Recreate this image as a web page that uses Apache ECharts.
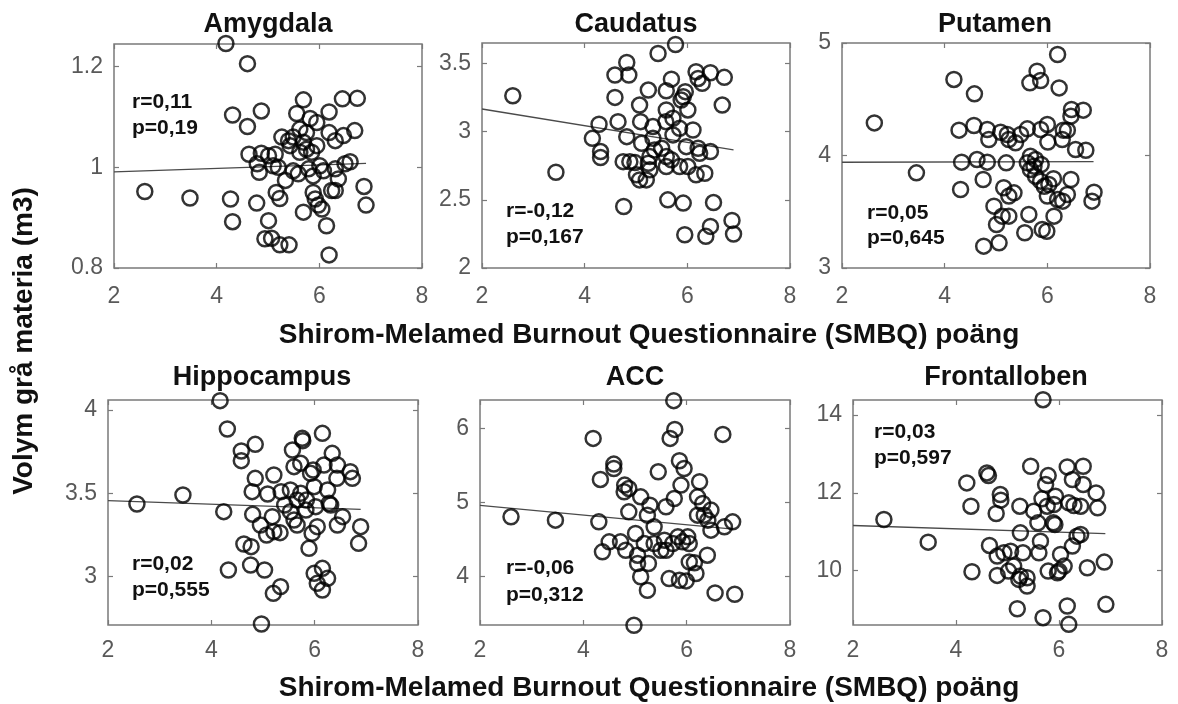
<!DOCTYPE html>
<html><head><meta charset="utf-8">
<script src="https://cdn.jsdelivr.net/npm/echarts@6/dist/echarts.min.js"></script>
<style>html,body{margin:0;padding:0;background:#fff}#c{width:1178px;height:704px}</style>
</head><body><div id="c"></div><script>
// ---------- data ----------
const panelTitles = ['Amygdala', 'Caudatus', 'Putamen', 'Hippocampus', 'ACC', 'Frontalloben'];
const xTitle = 'Shirom-Melamed Burnout Questionnaire (SMBQ) poäng';
const yTitle = 'Volym grå materia (m3)';
const xTicks = [2, 4, 6, 8];
const xMin = 2, xMax = 8;
const amygdalaTicks = [0.8, 1, 1.2];
const caudatusTicks = [2, 2.5, 3, 3.5];
const putamenTicks = [3, 4, 5];
const hippocampusTicks = [3, 3.5, 4];
const accTicks = [4, 5, 6];
const frontalTicks = [10, 12, 14];
const yMins = [0.8, 2, 3, 2.71, 3.35, 8.6];
const yMaxs = [1.245, 3.65, 5, 4.06, 6.38, 14.39];
const statR = ['r=0,11', 'r=-0,12', 'r=0,05', 'r=0,02', 'r=-0,06', 'r=0,03'];
const statP = ['p=0,19', 'p=0,167', 'p=0,645', 'p=0,555', 'p=0,312', 'p=0,597'];

const amygdalaPoints = [[4.18,1.246],[4.60,1.206],[2.60,0.952],[3.48,0.939],[4.31,1.104],[4.60,1.081],[4.87,1.112],[4.27,0.937],[4.31,0.892],[4.78,0.929],[4.63,1.026],[4.87,1.028],[4.79,1.007],[4.83,0.990],[5.01,0.894],[4.94,0.858],[5.07,0.859],[5.23,0.846],[5.41,0.846],[5.16,0.950],[5.23,0.938],[5.14,1.026],[5.20,1.000],[5.27,1.060],[5.40,1.053],[5.49,1.060],[5.34,0.974],[5.56,1.107],[5.69,1.134],[5.62,1.076],[5.59,0.987],[5.69,0.911],[5.62,1.030],[5.75,1.036],[5.85,1.030],[5.95,1.043],[5.82,1.097],[5.95,1.089],[5.79,0.997],[5.88,0.950],[5.92,0.937],[5.98,0.925],[6.05,0.917],[6.01,1.003],[6.08,0.993],[6.19,1.110],[6.19,1.069],[6.31,1.053],[6.14,0.884],[6.19,0.826],[6.24,0.954],[6.31,0.954],[6.37,0.977],[6.31,0.997],[6.45,1.136],[6.47,1.063],[6.50,1.007],[6.60,1.011],[6.74,1.137],[6.69,1.073],[6.87,0.962],[6.91,0.925],[5.01,1.023],[5.49,0.993],[5.43,1.043],[5.75,1.069],[5.88,0.983],[5.69,1.050],[5.10,1.003]];
const caudatusPoints = [[2.60,3.263],[3.44,2.702],[4.28,3.054],[4.15,2.951],[4.31,2.854],[4.31,2.810],[4.59,3.415],[4.82,3.507],[4.86,3.415],[4.59,3.251],[4.65,3.073],[4.82,2.963],[4.76,2.451],[4.75,2.780],[4.88,2.780],[4.98,2.773],[5.01,2.683],[5.07,2.646],[5.20,2.646],[5.24,2.768],[5.27,2.720],[5.07,3.195],[5.24,3.305],[5.09,3.073],[5.11,2.915],[5.33,3.037],[5.33,2.951],[5.43,3.573],[5.77,3.639],[5.59,3.300],[5.69,3.385],[5.58,3.073],[5.72,3.098],[5.50,2.878],[5.59,2.817],[5.59,2.744],[5.69,2.793],[5.62,2.500],[5.92,2.476],[5.72,2.976],[5.85,3.024],[5.92,3.256],[5.96,3.293],[5.88,3.232],[6.01,3.159],[5.98,2.890],[5.85,2.744],[6.01,2.744],[5.95,2.244],[6.11,3.012],[6.17,3.439],[6.21,3.390],[6.29,3.354],[6.21,2.878],[6.24,2.841],[6.17,2.683],[6.34,2.695],[6.45,2.854],[6.45,3.432],[6.72,3.398],[6.68,3.195],[6.51,2.480],[6.45,2.305],[6.36,2.232],[6.87,2.349],[6.90,2.249],[5.36,2.866],[5.27,2.817],[5.59,3.159]];
const putamenPoints = [[2.63,4.290],[3.45,3.846],[4.18,4.676],[4.58,4.548],[4.28,4.225],[4.57,4.267],[4.33,3.941],[4.63,3.964],[4.83,3.941],[4.75,3.787],[4.31,3.698],[4.83,4.231],[4.86,4.142],[5.09,4.207],[5.20,3.935],[5.15,3.713],[4.96,3.550],[5.01,3.387],[4.76,3.194],[5.06,3.224],[5.12,3.461],[5.25,3.461],[5.25,3.639],[5.35,3.668],[5.25,4.142],[5.38,4.113],[5.48,4.187],[5.61,4.237],[5.66,4.646],[5.80,4.750],[5.87,4.667],[6.20,4.898],[6.23,4.601],[5.56,3.313],[5.64,3.476],[5.61,3.935],[5.67,3.994],[5.74,3.905],[5.77,3.816],[5.87,3.772],[5.94,3.727],[5.88,3.920],[6.00,3.639],[5.90,3.342],[5.99,3.327],[6.13,3.461],[6.00,4.276],[6.01,4.119],[6.12,3.793],[6.03,3.742],[6.20,3.609],[6.30,3.594],[6.39,3.653],[6.46,3.787],[6.31,4.225],[6.39,4.225],[6.29,4.142],[6.46,4.350],[6.47,4.409],[6.70,4.403],[6.55,4.053],[6.75,4.047],[6.91,3.674],[6.87,3.594],[5.67,3.876],[5.77,3.964],[5.22,4.187],[5.87,4.231]];
const hippocampusPoints = [[2.56,3.436],[3.45,3.490],[4.17,4.056],[4.31,3.886],[4.24,3.390],[4.33,3.040],[4.58,3.754],[4.58,3.696],[4.85,3.794],[4.85,3.590],[4.79,3.510],[4.80,3.374],[4.63,3.196],[4.77,3.180],[4.76,3.070],[5.03,3.040],[5.20,2.900],[5.34,2.940],[4.97,2.716],[5.09,3.496],[5.21,3.610],[4.95,3.310],[5.07,3.250],[5.18,3.360],[5.21,3.270],[5.33,3.264],[5.35,3.510],[5.53,3.520],[5.57,3.760],[5.60,3.660],[5.73,3.680],[5.76,3.830],[5.77,3.816],[5.42,3.430],[5.53,3.390],[5.66,3.310],[5.66,3.460],[5.73,3.500],[5.84,3.460],[5.83,3.400],[5.92,3.620],[5.99,3.540],[5.89,3.170],[5.95,3.260],[6.05,3.300],[5.99,3.020],[6.05,2.960],[6.15,3.050],[6.25,2.990],[6.15,2.920],[6.15,3.860],[6.18,3.670],[6.25,3.520],[6.28,3.440],[6.31,3.430],[6.34,3.740],[6.44,3.670],[6.43,3.590],[6.54,3.360],[6.44,3.310],[6.69,3.630],[6.73,3.590],[6.89,3.300],[6.85,3.200],[5.60,3.340],[6.02,3.420],[5.97,3.640]];
const accPoints = [[2.60,4.807],[3.46,4.762],[4.30,4.739],[4.19,5.863],[4.33,5.310],[4.59,5.517],[4.59,5.458],[4.80,5.234],[4.79,5.144],[4.88,5.189],[4.88,4.874],[4.50,4.470],[4.37,4.335],[4.72,4.470],[4.82,4.357],[5.01,4.582],[5.05,4.178],[5.11,4.000],[5.24,3.818],[4.98,3.346],[5.11,5.076],[5.29,4.964],[5.24,4.829],[5.18,4.447],[5.26,4.178],[5.37,4.672],[5.37,4.447],[5.45,5.413],[5.60,4.942],[5.57,4.492],[5.60,4.357],[5.66,3.975],[5.75,6.371],[5.77,5.984],[5.68,5.863],[5.76,5.054],[5.86,5.562],[5.95,5.458],[5.89,5.234],[5.73,4.447],[5.83,4.537],[5.86,3.953],[5.99,3.944],[6.02,4.537],[6.05,4.447],[6.05,4.200],[6.15,4.187],[6.18,4.043],[6.21,5.076],[6.25,5.279],[6.21,4.829],[6.31,4.987],[6.34,4.829],[6.41,4.762],[6.47,4.897],[6.40,4.290],[6.47,4.627],[6.70,5.917],[6.55,3.782],[6.73,4.672],[6.89,4.739],[6.93,3.764],[5.50,4.357],[5.05,4.290],[5.92,4.470]];
const frontalPoints = [[2.60,11.315],[3.46,10.732],[4.29,11.657],[4.31,9.970],[4.60,12.514],[4.63,12.445],[4.21,12.257],[4.86,11.957],[4.87,11.812],[4.78,11.469],[4.65,10.647],[4.80,10.373],[4.93,10.458],[5.06,10.501],[4.80,9.876],[5.02,9.987],[5.12,10.116],[5.22,9.773],[5.38,9.816],[5.38,9.602],[5.19,9.019],[5.24,11.657],[5.25,10.972],[5.30,10.458],[5.45,12.685],[5.51,11.529],[5.59,11.229],[5.61,10.458],[5.64,10.758],[5.69,14.398],[5.79,12.445],[5.74,12.214],[5.67,11.846],[5.77,11.657],[5.90,11.700],[5.93,11.914],[5.89,11.229],[5.79,9.987],[5.69,8.788],[5.97,9.944],[6.03,10.415],[6.10,10.116],[6.16,12.668],[6.26,12.343],[6.19,11.743],[6.29,11.675],[6.42,11.657],[6.47,12.685],[6.47,12.214],[6.26,10.630],[6.35,10.886],[6.42,10.929],[6.55,10.073],[6.72,12.000],[6.75,11.615],[6.88,10.218],[6.91,9.131],[6.16,9.088],[6.19,8.617],[6.00,9.987],[5.92,11.186],[5.25,9.859]];

const amygdalaFit = [[2, 0.991], [6.91, 1.008]];
const caudatusFit = [[2, 3.166], [6.90, 2.866]];
const putamenFit = [[2, 3.940], [6.90, 3.945]];
const hippocampusFit = [[2, 3.456], [6.89, 3.404]];
const accFit = [[2, 4.960], [6.90, 4.640]];
const frontalFit = [[2, 11.16], [6.90, 10.95]];

// ---------- layout / style ----------
const pointsList = [amygdalaPoints, caudatusPoints, putamenPoints, hippocampusPoints, accPoints, frontalPoints];
const fitList = [amygdalaFit, caudatusFit, putamenFit, hippocampusFit, accFit, frontalFit];
const yTickList = [amygdalaTicks, caudatusTicks, putamenTicks, hippocampusTicks, accTicks, frontalTicks];

const FONT = "'Liberation Sans', Arial, Helvetica, sans-serif";
const BOX = '#7a7a7a';
const LABEL = '#595959';
const grids = [
  {left:114, top:44, width:308, height:224},
  {left:482, top:43, width:308, height:225},
  {left:842, top:43, width:308, height:225},
  {left:108, top:400, width:310, height:225},
  {left:480, top:400, width:310, height:225},
  {left:853, top:400, width:309, height:225}
];
const titlePos = [[268,25],[636,25],[995,25],[262,378],[635,378],[1006,378]];
const statPos = [[132,102,128],[506,211,237],[867,213,238],[132,564,590],[506,568,595],[874,432,458]];
const xLabelMargin = [17,17,17,14,14,14];

const xAxes = [], yAxes = [], series = [], titles = [], graphics = [];
grids.forEach((g, i) => {
  const tick = {inside:true, length:5, lineStyle:{color:BOX, width:1.2}};
  xAxes.push({gridIndex:i, type:'value', min:xMin, max:xMax, position:'bottom',
    axisLine:{show:false}, splitLine:{show:false},
    axisTick:Object.assign({customValues:xTicks}, tick),
    axisLabel:{customValues:xTicks, fontSize:23, color:LABEL, fontFamily:FONT, margin:xLabelMargin[i]}});
  xAxes.push({gridIndex:i, type:'value', min:xMin, max:xMax, position:'top',
    axisLine:{show:false}, splitLine:{show:false},
    axisTick:Object.assign({customValues:xTicks}, tick), axisLabel:{show:false}});
  yAxes.push({gridIndex:i, type:'value', min:yMins[i], max:yMaxs[i], position:'left',
    axisLine:{show:false}, splitLine:{show:false},
    axisTick:Object.assign({customValues:yTickList[i]}, tick),
    axisLabel:{customValues:yTickList[i], fontSize:23, color:LABEL, fontFamily:FONT, margin:11}});
  yAxes.push({gridIndex:i, type:'value', min:yMins[i], max:yMaxs[i], position:'right',
    axisLine:{show:false}, splitLine:{show:false},
    axisTick:Object.assign({customValues:yTickList[i]}, tick), axisLabel:{show:false}});
  series.push({type:'scatter', xAxisIndex:2*i, yAxisIndex:2*i, data:pointsList[i], clip:false,
    symbol:'circle', symbolSize:15,
    itemStyle:{color:'rgba(0,0,0,0)', borderColor:'#000', borderWidth:2.5}, z:3});
  series.push({type:'line', xAxisIndex:2*i, yAxisIndex:2*i, data:fitList[i], showSymbol:false,
    symbol:'none', lineStyle:{color:'#4a4a4a', width:1.3}, z:2, silent:true});
  titles.push({text:panelTitles[i], left:titlePos[i][0], top:titlePos[i][1], padding:0,
    textAlign:'center', textVerticalAlign:'middle',
    textStyle:{fontSize:27, fontWeight:'bold', color:'#111', fontFamily:FONT}});
  graphics.push({type:'text', x:statPos[i][0], y:statPos[i][1], z:10,
    style:{text:statR[i], font:'bold 21px ' + FONT, fill:'#111', align:'left', verticalAlign:'middle'}});
  graphics.push({type:'text', x:statPos[i][0], y:statPos[i][2], z:10,
    style:{text:statP[i], font:'bold 21px ' + FONT, fill:'#111', align:'left', verticalAlign:'middle'}});
});
titles.push({text:xTitle, left:649, top:335, padding:0, textAlign:'center', textVerticalAlign:'middle',
  textStyle:{fontSize:28, fontWeight:'bold', color:'#111', fontFamily:FONT}});
titles.push({text:xTitle, left:649, top:688, padding:0, textAlign:'center', textVerticalAlign:'middle',
  textStyle:{fontSize:28, fontWeight:'bold', color:'#111', fontFamily:FONT}});
graphics.push({type:'text', x:24, y:341, rotation:Math.PI/2, z:10,
  style:{text:yTitle, font:'bold 28px ' + FONT, fill:'#111', align:'center', verticalAlign:'middle'}});

const chart = echarts.init(document.getElementById('c'), null, {renderer:'canvas'});
chart.setOption({
  animation:false,
  backgroundColor:'#ffffff',
  title:titles,
  grid:grids.map(g => Object.assign({show:true, borderColor:BOX, borderWidth:1.5, containLabel:false, outerBoundsMode:'none'}, g)),
  xAxis:xAxes,
  yAxis:yAxes,
  series:series,
  graphic:graphics
});
</script></body></html>
